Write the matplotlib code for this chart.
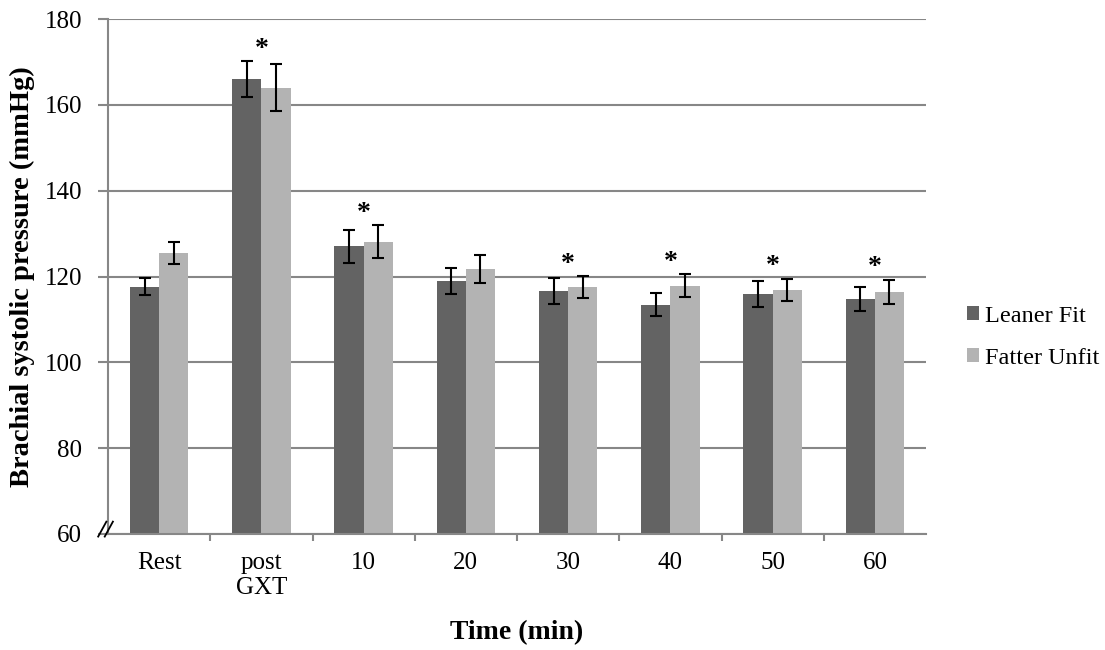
import matplotlib
matplotlib.use("Agg")
import matplotlib.pyplot as plt
import numpy as np

categories = ["Rest", "post\nGXT", "10", "20", "30", "40", "50", "60"]
leaner_fit = [117.6, 166.0, 127.0, 119.0, 116.6, 113.4, 116.0, 114.7]
leaner_err = [2.0, 4.1, 3.8, 3.0, 3.1, 2.7, 3.0, 2.8]
fatter_unfit = [125.5, 164.0, 128.1, 121.8, 117.5, 117.9, 116.9, 116.4]
fatter_err = [2.6, 5.5, 3.8, 3.2, 2.6, 2.6, 2.6, 2.8]
significant = [False, True, True, False, True, True, True, True]
y_ticks = [60, 80, 100, 120, 140, 160, 180]

plt.rcParams['font.family'] = ['Liberation Serif', 'DejaVu Serif']

W, H = 1105, 650
fig = plt.figure(figsize=(W / 100, H / 100), dpi=100)
ax = fig.add_axes([108 / W, 1 - 534 / H, 818 / W, 515 / H])

x = np.arange(len(categories))
w = 0.285
dark = "#636363"
light = "#b3b3b3"
grid_c = "#878787"

ax.set_axisbelow(True)
ax.yaxis.grid(True, color=grid_c, linewidth=1.5)
ax.bar(x - w / 2, leaner_fit, w, color=dark, label="Leaner Fit", zorder=2)
ax.bar(x + w / 2, fatter_unfit, w, color=light, label="Fatter Unfit", zorder=2)
ax.errorbar(x - w / 2, leaner_fit, yerr=leaner_err, fmt="none", ecolor="black",
            elinewidth=1.5, capsize=4, capthick=1.5, zorder=3)
ax.errorbar(x + w / 2, fatter_unfit, yerr=fatter_err, fmt="none", ecolor="black",
            elinewidth=1.5, capsize=4, capthick=1.5, zorder=3)

for i, sig in enumerate(significant):
    if sig:
        top = max(leaner_fit[i] + leaner_err[i], fatter_unfit[i] + fatter_err[i])
        ax.annotate("*", (x[i], top), xytext=(0, 4), textcoords="offset points",
                    ha="center", va="baseline", fontsize=20, fontweight="bold")

ax.set_ylim(60, 180)
ax.set_xlim(-0.5, len(categories) - 0.5)
ax.set_yticks(y_ticks)
ax.set_yticklabels([str(t) for t in y_ticks], fontsize=18)
ax.set_xticks(x)
ax.set_xticklabels(categories, fontsize=18, linespacing=1.2)
ax.set_xticks(np.arange(0.5, len(categories) - 0.5, 1.0), minor=True)
ax.tick_params(axis="x", which="major", length=0, pad=13)
ax.tick_params(axis="x", which="minor", length=5, color=grid_c, width=1.5)
ax.tick_params(axis="y", length=7, color=grid_c, width=1.5, pad=11.5)

for s in ["top", "right"]:
    ax.spines[s].set_visible(False)
for s in ["left", "bottom"]:
    ax.spines[s].set_color(grid_c)
    ax.spines[s].set_linewidth(1.5)

# axis break marks
for dx in (-0.008, 0.0):
    ax.plot([dx - 0.004, dx + 0.006], [-0.005, 0.024], transform=ax.transAxes,
            color="black", linewidth=1.3, clip_on=False, zorder=5)

ax.set_ylabel("Brachial systolic pressure (mmHg)", fontsize=20.5, fontweight="bold")
ax.yaxis.set_label_coords(-0.089, 0.5)
ax.set_xlabel("Time (min)", fontsize=20, fontweight="bold")
ax.xaxis.set_label_coords(0.5, -0.167)

fig.legend(*ax.get_legend_handles_labels(), loc="upper left",
           bbox_to_anchor=(967 / W, 1 - 306 / H), bbox_transform=fig.transFigure,
           frameon=False, fontsize=17.5, borderpad=0, borderaxespad=0,
           handlelength=0.5, handleheight=0.5, handletextpad=0.25, labelspacing=0.85)

fig.savefig("out.png", dpi=100)
